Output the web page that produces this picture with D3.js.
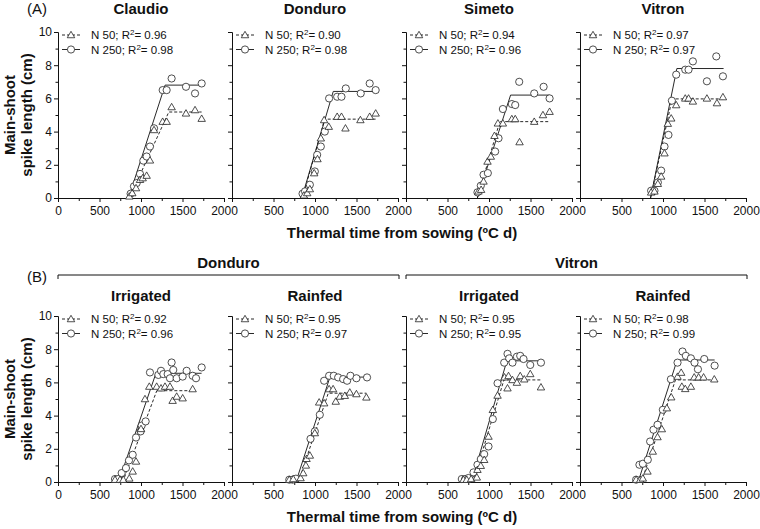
<!DOCTYPE html>
<html><head><meta charset="utf-8">
<script src="https://cdn.jsdelivr.net/npm/d3@7"></script>
<style>
body{margin:0;background:#fff;}
svg{display:block;font-family:"Liberation Sans",Arial,Helvetica,sans-serif;}
</style></head>
<body><svg id="c" width="760" height="529"></svg>
<script>
// ---------- data ----------
const xTicks = [0, 500, 1000, 1500, 2000];
const xMinor = [250, 750, 1250, 1750];
const yTicks = [0, 2, 4, 6, 8, 10];
const yMinor = [1, 3, 5, 7, 9];
const rowLabels = ["(A)", "(B)"];
const topTitles = ["Claudio", "Donduro", "Simeto", "Vitron"];
const bottomGroups = ["Donduro", "Vitron"];
const bottomTitles = ["Irrigated", "Rainfed", "Irrigated", "Rainfed"];
const seriesNames = ["N 50", "N 250"];
const r2Top = [["0.96", "0.98"], ["0.90", "0.98"], ["0.94", "0.96"], ["0.97", "0.97"]];
const r2Bottom = [["0.92", "0.96"], ["0.95", "0.97"], ["0.95", "0.95"], ["0.98", "0.99"]];
const xTitle = "Thermal time from sowing (ºC d)";
const yTitle = ["Main-shoot", "spike length (cm)"];

// (A) Claudio
const claudioN50 = [[859,0.1],[895,0.3],[940,0.6],[988,1.1],[1020,1.2],[1068,1.35],[1108,2.27],[1157,4.1],[1261,4.6],[1309,4.6],[1369,5.48],[1542,5.1],[1651,5.3],[1731,4.78]];
const claudioN250 = [[875,0.26],[915,0.7],[948,0.9],[988,1.45],[1028,2.25],[1068,2.5],[1108,3.1],[1157,4.2],[1261,6.5],[1309,6.5],[1369,7.2],[1542,6.7],[1651,6.3],[1731,6.9]];
const claudioFit50 = [[860,0],[1335,5.18],[1730,5.18]];
const claudioFit250 = [[850,0],[1290,6.8],[1730,6.8]];
// (A) Donduro
const dondN50 = [[866,0.16],[906,0.3],[938,0.54],[990,1.5],[1030,2.35],[1070,3.6],[1110,4.7],[1166,4.3],[1267,4.9],[1319,4.9],[1367,4.2],[1547,4.7],[1659,4.9],[1731,5.1]];
const dondN250 = [[850,0.26],[880,0.4],[938,0.8],[998,1.6],[1026,2.6],[1070,3.1],[1118,4.0],[1170,6.0],[1267,6.1],[1319,6.1],[1371,6.6],[1551,6.3],[1659,6.9],[1731,6.5]];
const dondFit50 = [[850,0],[1115,4.75],[1730,4.75]];
const dondFit250 = [[840,0],[1220,6.42],[1730,6.42]];
// (A) Simeto
const simN50 = [[873,0.4],[905,0.5],[934,1.0],[982,2.2],[1022,2.5],[1066,3.75],[1107,4.5],[1167,4.5],[1275,4.76],[1316,4.76],[1368,3.37],[1545,4.6],[1650,5.0],[1730,5.2]];
const simN250 = [[861,0.34],[901,0.74],[934,1.4],[986,1.5],[1074,2.8],[1115,3.6],[1167,5.36],[1275,5.66],[1316,5.6],[1364,7.0],[1545,6.3],[1658,6.7],[1730,6.0]];
const simFit50 = [[860,0],[1130,4.6],[1730,4.6]];
const simFit250 = [[860,0],[1260,6.2],[1730,6.2]];
// (A) Vitron
const vitN50 = [[857,0.34],[897,0.4],[938,0.86],[978,1.3],[1018,2.7],[1058,4.48],[1099,4.8],[1159,5.6],[1268,6.0],[1308,6.0],[1360,5.82],[1529,6.0],[1650,5.72],[1722,6.08]];
const vitN250 = [[857,0.44],[897,0.44],[938,0.94],[978,1.65],[1018,3.1],[1066,3.8],[1107,5.86],[1159,7.43],[1268,7.73],[1308,7.73],[1360,8.23],[1529,7.03],[1642,8.53],[1722,7.33]];
const vitFit50 = [[850,0],[1110,5.97],[1730,5.97]];
const vitFit250 = [[850,0],[1167,7.8],[1730,7.8]];
// (B) Donduro irrigated
const dIrrN50 = [[687,0.14],[747,0.14],[787,0.14],[859,0.22],[900,0.64],[940,1.24],[1000,3.2],[1048,5.0],[1100,5.75],[1189,5.75],[1241,5.65],[1289,5.75],[1349,5.75],[1381,4.9],[1430,5.15],[1502,5.05],[1622,5.6]];
const dIrrN250 = [[687,0.18],[727,0.18],[767,0.54],[819,0.84],[855,1.3],[900,1.64],[940,2.68],[996,3.05],[1008,3.4],[1056,3.65],[1108,6.6],[1209,6.45],[1241,6.7],[1269,6.5],[1321,6.5],[1349,6.25],[1369,7.2],[1389,6.75],[1430,6.25],[1502,6.35],[1550,6.7],[1622,6.4],[1663,6.25],[1731,6.9]];
const dIrrFit50 = [[780,0],[1190,5.5],[1622,5.5]];
const dIrrFit250 = [[730,0],[1180,6.55],[1730,6.55]];
// (B) Donduro rainfed
const dRfN50 = [[690,0.14],[738,0.18],[826,0.24],[858,0.54],[890,1.0],[898,1.4],[938,1.6],[998,2.95],[1050,4.8],[1110,4.75],[1170,5.6],[1218,5.6],[1250,4.85],[1299,5.15],[1359,5.2],[1419,5.4],[1499,5.3],[1619,5.1]];
const dRfN250 = [[690,0.14],[730,0.14],[770,0.2],[946,2.6],[998,3.05],[1058,4.05],[1110,6.1],[1170,6.4],[1226,6.4],[1279,6.3],[1339,6.2],[1387,6.1],[1427,6.4],[1499,6.25],[1627,6.3]];
const dRfFit50 = [[800,0],[1160,5.35],[1619,5.35]];
const dRfFit250 = [[770,0],[1180,6.32],[1627,6.32]];
// (B) Vitron irrigated
const vIrrN50 = [[692,0.14],[732,0.14],[785,0.18],[853,0.28],[861,0.74],[901,0.98],[942,1.34],[994,2.74],[1046,4.35],[1103,5.21],[1187,6.31],[1223,5.65],[1235,6.39],[1283,6.15],[1336,5.99],[1376,6.39],[1425,6.19],[1497,6.51],[1626,5.71]];
const vIrrN250 = [[672,0.18],[712,0.18],[752,0.24],[813,0.58],[861,1.04],[901,1.38],[942,1.68],[994,2.14],[1046,3.79],[1103,5.95],[1183,7.19],[1223,7.72],[1243,7.45],[1283,7.19],[1336,7.55],[1376,7.6],[1416,7.41],[1497,7.05],[1626,7.19]];
const vIrrFit50 = [[810,0],[1180,6.15],[1626,6.15]];
const vIrrFit250 = [[790,0],[1215,7.3],[1626,7.3]];
// (B) Vitron rainfed
const vRfN50 = [[676,0.14],[725,0.14],[757,0.22],[813,0.64],[877,1.84],[934,2.71],[986,3.19],[1046,4.45],[1099,5.11],[1175,6.35],[1219,6.59],[1227,5.75],[1268,5.61],[1336,5.75],[1376,6.31],[1429,6.31],[1489,6.31],[1618,6.19]];
const vRfN250 = [[676,0.14],[716,1.04],[757,1.1],[817,1.34],[845,2.44],[885,3.15],[934,3.45],[998,4.35],[1095,6.19],[1175,7.19],[1235,7.86],[1275,7.6],[1336,7.45],[1380,7.19],[1421,6.79],[1497,7.41],[1622,7.01]];
const vRfFit50 = [[740,0],[1150,6.15],[1618,6.15]];
const vRfFit250 = [[700,0],[1170,7.35],[1622,7.35]];

const topPanels = [
  {n50: claudioN50, n250: claudioN250, f50: claudioFit50, f250: claudioFit250},
  {n50: dondN50, n250: dondN250, f50: dondFit50, f250: dondFit250},
  {n50: simN50, n250: simN250, f50: simFit50, f250: simFit250},
  {n50: vitN50, n250: vitN250, f50: vitFit50, f250: vitFit250}
];
const bottomPanels = [
  {n50: dIrrN50, n250: dIrrN250, f50: dIrrFit50, f250: dIrrFit250},
  {n50: dRfN50, n250: dRfN250, f50: dRfFit50, f250: dRfFit250},
  {n50: vIrrN50, n250: vIrrN250, f50: vIrrFit50, f250: vIrrFit250},
  {n50: vRfN50, n250: vRfN250, f50: vRfFit50, f250: vRfFit250}
];

// ---------- layout ----------
const svg = d3.select("#c");
const INK = "#111";
const lefts = [58, 232, 406, 580];
const pw = 166;
const rows = [{top: 32, bottom: 198}, {top: 316, bottom: 482}];
const tri = d3.symbol().type(d3.symbolTriangle).size(24);

function drawPanel(row, col, pd, title, r2) {
  const L = lefts[col], T = rows[row].top, B = rows[row].bottom;
  const x = d3.scaleLinear().domain([0, 2000]).range([L, L + pw]);
  const y = d3.scaleLinear().domain([0, 10]).range([B, T]);
  const g = svg.append("g");

  // x axis
  const xa = g.append("g").attr("transform", `translate(0,${B})`)
    .call(d3.axisBottom(x).tickValues(xTicks).tickSize(4).tickPadding(4)
      .tickFormat(d => (col > 0 && d === 0) ? "" : d));
  g.append("g").attr("transform", `translate(0,${B})`)
    .call(d3.axisBottom(x).tickValues(xMinor).tickSize(3).tickFormat(""))
    .select(".domain").remove();
  // y axis
  g.append("g").attr("transform", `translate(${L},0)`)
    .call(d3.axisLeft(y).tickValues(yTicks).tickSize(4).tickPadding(2)
      .tickFormat(d => col === 0 ? d : ""));
  g.append("g").attr("transform", `translate(${L},0)`)
    .call(d3.axisLeft(y).tickValues(yMinor).tickSize(2.5).tickFormat(""))
    .select(".domain").remove();
  g.selectAll(".domain").attr("stroke", INK).attr("stroke-width", 1);
  g.selectAll(".tick line").attr("stroke", INK);
  g.selectAll(".tick text").attr("fill", INK).style("font-size", "12px")
    .style("font-family", '"Liberation Sans",Arial,sans-serif');

  // title
  svg.append("text").attr("x", L + pw / 2).attr("y", row === 0 ? 14 : 301)
    .attr("text-anchor", "middle").attr("fill", INK)
    .style("font-size", "15px").style("font-weight", "bold").text(title);

  // fits
  const line = d3.line().x(d => x(d[0])).y(d => y(d[1]));
  g.append("path").attr("d", line(pd.f50)).attr("fill", "none")
    .attr("stroke", INK).attr("stroke-width", 0.9).attr("stroke-dasharray", "3,2");
  g.append("path").attr("d", line(pd.f250)).attr("fill", "none")
    .attr("stroke", INK).attr("stroke-width", 0.9);

  // points
  g.selectAll("circle.n250").data(pd.n250).join("circle").attr("class", "n250")
    .attr("cx", d => x(d[0])).attr("cy", d => y(d[1])).attr("r", 3.6)
    .attr("fill", "#fff").attr("stroke", "#222").attr("stroke-width", 0.8);
  g.selectAll("path.n50").data(pd.n50).join("path").attr("class", "n50")
    .attr("d", tri).attr("transform", d => `translate(${x(d[0])},${y(d[1]) + 0.6})`)
    .attr("fill", "#fff").attr("stroke", "#222").attr("stroke-width", 0.8);

  // legend
  seriesNames.forEach((nm, i) => {
    const ly = T + 3 + i * 14.5;
    const lg = g.append("g").attr("transform", `translate(${L + 4},${ly})`);
    lg.append("line").attr("x1", 0).attr("x2", 18).attr("y1", 0).attr("y2", 0)
      .attr("stroke", INK).attr("stroke-width", 0.9)
      .attr("stroke-dasharray", i === 0 ? "3,2" : null);
    if (i === 0) {
      lg.append("path").attr("d", tri).attr("transform", "translate(9,0.6)")
        .attr("fill", "#fff").attr("stroke", "#222").attr("stroke-width", 0.8);
    } else {
      lg.append("circle").attr("cx", 9).attr("cy", 0).attr("r", 3.6)
        .attr("fill", "#fff").attr("stroke", "#222").attr("stroke-width", 0.8);
    }
    const t = lg.append("text").attr("x", 29).attr("y", 4).attr("fill", INK)
      .style("font-size", "11.5px");
    t.append("tspan").text(nm + "; R");
    t.append("tspan").attr("dy", -4).style("font-size", "8px").text("2");
    t.append("tspan").attr("dy", 4).text("= " + r2[i]);
  });
}

topPanels.forEach((pd, c) => drawPanel(0, c, pd, topTitles[c], r2Top[c]));
bottomPanels.forEach((pd, c) => drawPanel(1, c, pd, bottomTitles[c], r2Bottom[c]));

// row labels
rowLabels.forEach((lab, r) => {
  svg.append("text").attr("x", 27).attr("y", r === 0 ? 14 : 282).attr("fill", INK)
    .style("font-size", "15px").text(lab);
});

// group headers (B)
bottomGroups.forEach((gname, i) => {
  const x0 = lefts[i * 2], x1 = lefts[i * 2 + 1] + pw + 1;
  svg.append("path").attr("d", `M${x0},279V275H${x1}V279`).attr("fill", "none")
    .attr("stroke", INK).attr("stroke-width", 1);
  svg.append("text").attr("x", (x0 + x1) / 2).attr("y", 268).attr("text-anchor", "middle")
    .attr("fill", INK).style("font-size", "15px").style("font-weight", "bold").text(gname);
});

// axis titles
rows.forEach((rw, r) => {
  svg.append("text").attr("x", 402).attr("y", rw.bottom + 40).attr("text-anchor", "middle")
    .attr("fill", INK).style("font-size", "15px").style("font-weight", "bold").text(xTitle);
  const cy = (rw.top + rw.bottom) / 2;
  yTitle.forEach((s, i) => {
    svg.append("text").attr("transform", `translate(${15 + i * 17},${cy}) rotate(-90)`)
      .attr("text-anchor", "middle").attr("fill", INK)
      .style("font-size", "15px").style("font-weight", "bold").text(s);
  });
});
</script></body></html>
